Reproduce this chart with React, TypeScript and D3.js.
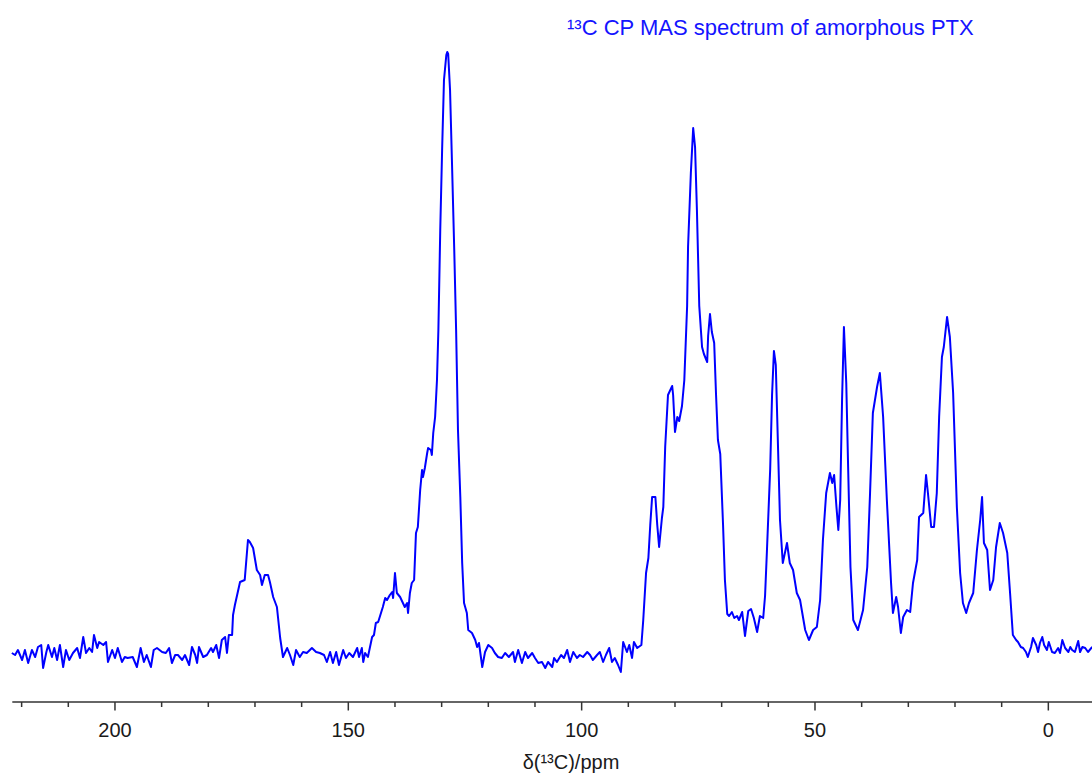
import React from "react";
import * as d3 from "d3";

// Chemical shift (ppm) of each trace point
const shiftPpm: number[] = [
  222.1, 221.4, 220.8, 219.9, 219.3, 218.6, 217.8, 217.1, 216.5, 215.8, 215.4, 214.7, 214.3, 213.5, 213.0, 212.4,
  211.8, 211.1, 210.5, 209.8, 209.0, 208.1, 207.5, 206.8, 206.2, 205.5, 204.9, 204.5, 203.8, 203.4, 202.5, 201.9,
  201.5, 200.6, 200.0, 199.4, 198.5, 197.9, 197.3, 196.2, 195.3, 194.5, 193.8, 193.2, 192.3, 191.7, 191.0, 189.9,
  189.1, 188.4, 187.8, 187.1, 186.5, 185.6, 185.0, 184.1, 183.5, 182.8, 182.4, 182.0, 181.1, 180.3, 179.4, 179.0,
  178.3, 177.7, 177.1, 176.4, 176.0, 175.6, 174.9, 174.7, 174.3, 173.2, 172.2, 171.5, 171.1, 170.4, 169.6, 168.9,
  168.5, 167.9, 167.2, 166.8, 166.1, 165.3, 164.6, 164.0, 163.1, 162.5, 161.8, 161.2, 160.4, 159.7, 158.9, 157.8,
  156.9, 156.1, 155.2, 154.6, 153.9, 153.3, 152.6, 152.0, 151.1, 150.5, 149.8, 149.0, 148.1, 147.7, 147.1, 146.8,
  146.4, 145.8, 144.9, 144.5, 144.1, 143.6, 143.0, 142.6, 142.1, 141.7, 141.1, 140.6, 140.4, 140.0, 139.6, 138.9,
  138.3, 137.9, 137.4, 137.2, 136.8, 136.4, 135.9, 135.5, 135.1, 134.6, 134.2, 134.0, 133.6, 133.1, 132.9, 132.3,
  132.1, 131.8, 131.4, 131.0, 130.7, 130.3, 129.9, 129.5, 129.0, 128.8, 128.6, 128.2, 127.8, 127.3, 126.9, 126.7,
  126.5, 126.0, 125.6, 125.2, 124.6, 124.3, 123.5, 122.8, 122.4, 122.0, 121.3, 120.7, 120.0, 119.2, 118.6, 117.9,
  117.1, 116.4, 115.6, 114.7, 114.3, 113.6, 112.8, 112.1, 111.5, 110.6, 110.0, 109.3, 108.5, 107.8, 107.2, 106.3,
  105.9, 105.3, 104.4, 103.8, 103.1, 102.5, 101.8, 101.0, 100.4, 99.7, 98.8, 98.2, 97.6, 96.7, 96.1, 95.4,
  94.8, 94.1, 93.5, 92.9, 92.2, 91.6, 91.1, 90.3, 89.8, 89.2, 88.8, 88.1, 87.2, 86.8, 86.2, 85.7,
  85.3, 84.9, 84.2, 83.8, 83.4, 82.8, 82.5, 82.1, 81.5, 80.6, 80.4, 80.0, 79.5, 79.1, 78.5, 78.0,
  77.4, 77.2, 76.6, 76.1, 75.7, 75.3, 74.8, 74.2, 73.8, 73.1, 72.9, 72.5, 72.1, 71.6, 71.2, 70.8,
  70.3, 69.7, 69.3, 68.8, 68.4, 67.8, 67.3, 66.7, 66.3, 65.6, 65.0, 64.3, 63.7, 63.1, 62.4, 61.8,
  61.1, 60.7, 60.3, 59.6, 59.2, 58.8, 58.4, 57.9, 57.5, 56.9, 56.0, 55.4, 54.7, 53.9, 53.2, 52.1,
  51.3, 50.4, 49.6, 48.9, 48.3, 47.6, 46.8, 46.3, 45.9, 45.4, 45.0, 44.6, 44.2, 43.8, 43.3, 42.9,
  42.4, 41.8, 40.8, 39.7, 38.8, 38.2, 37.6, 36.7, 36.1, 35.4, 34.6, 33.7, 33.3, 32.6, 32.2, 31.6,
  31.1, 30.3, 29.6, 29.0, 28.1, 27.7, 26.8, 26.2, 25.8, 25.1, 24.5, 23.9, 23.4, 22.8, 22.4, 21.7,
  21.1, 20.4, 19.6, 18.9, 18.3, 17.6, 17.0, 16.1, 15.3, 14.6, 14.2, 13.8, 13.1, 12.5, 11.8, 11.2,
  10.4, 9.7, 8.8, 8.2, 7.6, 6.9, 6.5, 5.9, 5.4, 4.8, 4.4, 3.7, 3.3, 2.6, 2.2, 1.8,
  1.3, 0.9, 0.3, -0.1, -0.8, -1.4, -2.1, -2.5, -3.0, -3.6, -4.3, -4.7, -5.1, -5.7, -6.4, -6.8,
  -7.3, -7.9, -8.5, -9.4,
];

// Signal intensity (arbitrary units) at each shift above
const intensity: number[] = [
  2, 0, 5, -5, 5, -8, 5, -2, 8, 10, -13, 3, 10, -2, 7, -5,
  10, -12, 5, -5, 2, 7, -3, 18, 2, 7, 3, 20, 7, 13, 10, 13,
  -7, 5, -3, 7, -7, -2, -3, -2, -12, 7, -7, 0, -12, 5, 7, 3,
  2, 7, -8, 0, 0, -5, 0, -10, 8, 0, -8, 8, -2, 0, 7, 3,
  10, -3, 15, 18, 2, 20, 20, 40, 50, 73, 75, 115, 113, 107, 85, 80,
  70, 80, 80, 73, 58, 48, 17, -2, 7, 0, -10, 5, -2, 3, 2, 7,
  3, 2, 0, -7, 3, -8, 3, -10, 5, -3, 2, -2, 7, -2, 7, -7,
  2, -2, 18, 20, 32, 33, 42, 48, 57, 55, 60, 63, 57, 82, 62, 58,
  52, 48, 52, 42, 62, 72, 75, 122, 128, 165, 185, 178, 187, 202, 207, 205,
  200, 222, 238, 275, 325, 425, 505, 575, 600, 603, 601, 565, 495, 405, 325, 275,
  225, 158, 92, 52, 42, 25, 22, 15, 8, 12, -12, 3, 10, 7, 2, -2,
  -3, 2, -2, 3, -7, 5, -8, 3, -3, 2, -3, -8, -7, -13, -7, -12,
  -3, -7, 0, -3, 5, -7, 3, -3, 0, -2, 3, 0, -5, 0, 3, -7,
  0, 7, -7, -3, -10, -17, 13, 3, 10, -3, 13, 7, 10, 35, 82, 97,
  130, 158, 158, 130, 108, 137, 148, 208, 260, 269, 260, 223, 238, 234, 249, 275,
  349, 408, 482, 527, 508, 445, 349, 308, 301, 293, 319, 341, 323, 312, 260, 215,
  201, 130, 75, 41, 39, 43, 37, 39, 35, 43, 19, 44, 46, 37, 23, 39,
  37, 59, 104, 186, 260, 304, 290, 204, 135, 92, 112, 92, 85, 62, 55, 25,
  15, 25, 28, 55, 115, 162, 182, 172, 180, 148, 125, 155, 255, 328, 272, 188,
  88, 35, 25, 45, 88, 162, 242, 268, 282, 238, 155, 72, 42, 58, 48, 22,
  38, 45, 43, 72, 95, 138, 142, 180, 162, 128, 128, 162, 238, 298, 308, 338,
  318, 262, 148, 82, 52, 42, 52, 62, 105, 135, 158, 112, 105, 65, 75, 108,
  132, 122, 102, 62, 20, 15, 13, 8, 7, 3, -2, 8, 17, 10, 3, 12,
  18, 10, 5, 13, 3, 2, 7, 2, 15, 7, 3, 8, 5, 3, 14, 3,
  8, 7, 3, 8,
];

const majorTicks: number[] = [200, 150, 100, 50, 0];
const minorTicks: number[] = [220, 210, 190, 180, 170, 160, 140, 130, 120, 110, 90, 80, 70, 60, 40, 30, 20, 10, -10];

const titleText = "¹³C CP MAS spectrum of amorphous PTX";
const axisTitle = "δ(¹³C)/ppm";

export default function App() {
  const width = 1092;
  const height = 775;
  const x = d3.scaleLinear().domain([222, -10]).range([12.3, 1095]);
  const y = d3.scaleLinear().domain([0, 603]).range([655, 52]);
  const axisY = 702;

  const pts = shiftPpm.map((p, i) => [p, intensity[i]] as [number, number]);
  const line = d3
    .line<[number, number]>()
    .x((d) => x(d[0]))
    .y((d) => y(d[1]));

  const font = "Arial, 'Liberation Sans', Helvetica, sans-serif";
  const axisColor = "#333333";

  return (
    <svg
      width={width}
      height={height}
      style={{ position: "absolute", left: 0, top: 0, background: "#ffffff" }}
      fontFamily={font}
    >
      <rect x={0} y={0} width={width} height={height} fill="#ffffff" />
      <path d={line(pts) || ""} fill="none" stroke="#0000ff" strokeWidth={2} strokeLinejoin="round" />

      <line x1={x(222)} x2={width} y1={axisY} y2={axisY} stroke={axisColor} strokeWidth={1.5} />
      {minorTicks.map((t) => (
        <line key={"m" + t} x1={x(t)} x2={x(t)} y1={axisY} y2={axisY + 5} stroke={axisColor} strokeWidth={1.5} />
      ))}
      {majorTicks.map((t) => (
        <g key={"M" + t}>
          <line x1={x(t)} x2={x(t)} y1={axisY} y2={axisY + 8.5} stroke={axisColor} strokeWidth={1.5} />
          <text x={x(t)} y={737} textAnchor="middle" fontSize={20} fill="#1a1a1a">
            {t}
          </text>
        </g>
      ))}
      <text x={571} y={769} textAnchor="middle" fontSize={20} fill="#1a1a1a">
        {axisTitle}
      </text>
      <text x={567} y={35} textAnchor="start" fontSize={22} fill="#1414ff">
        {titleText}
      </text>
    </svg>
  );
}
